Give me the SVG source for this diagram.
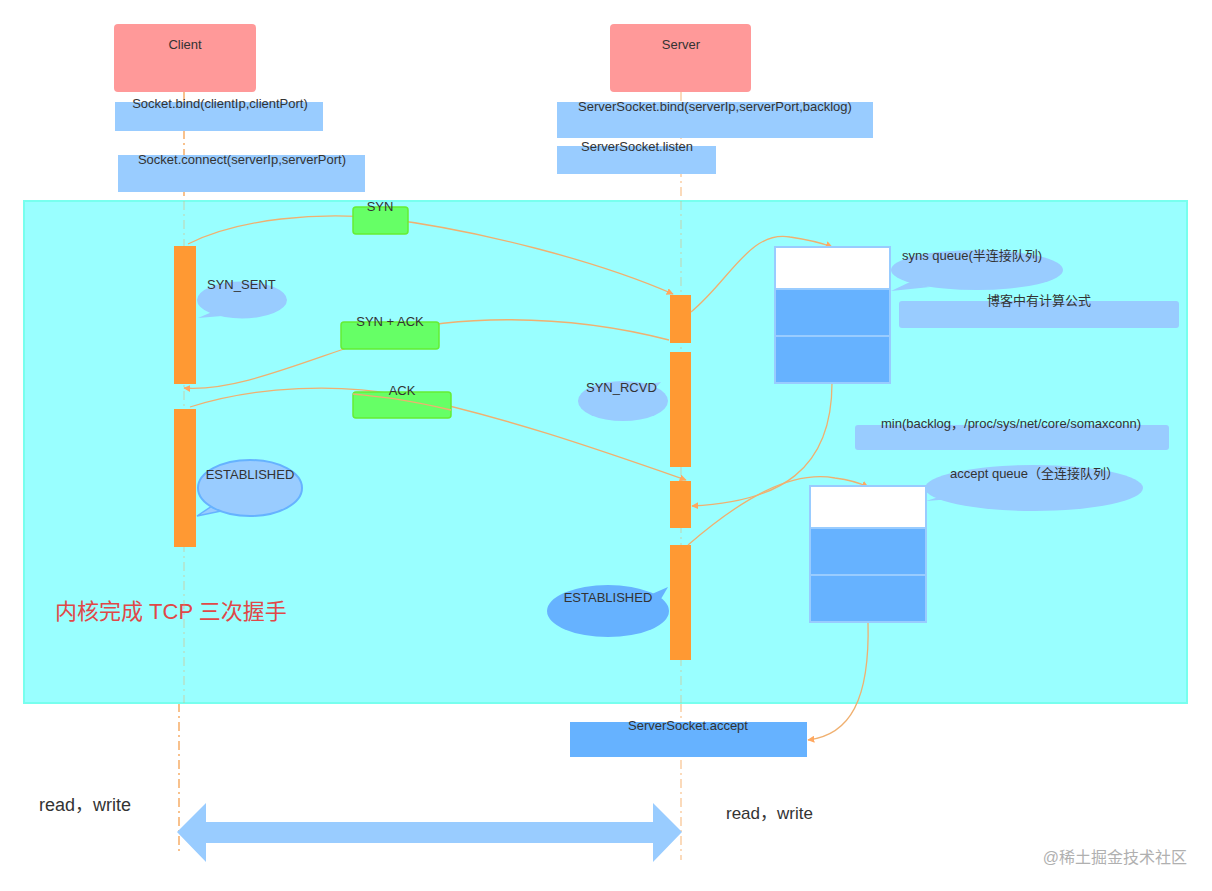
<svg xmlns="http://www.w3.org/2000/svg" width="1212" height="891" viewBox="0 0 1212 891">
<style>
text{font-family:"Liberation Sans",Arial,"Noto Sans CJK SC",sans-serif;font-size:13px;fill:#333}
.actor{fill:#FF9999}
.api{fill:#99CCFF}
.api2{fill:#66B2FF}
.msg{fill:#66FF66;stroke:#66EE33;stroke-width:1.5}
.bar{fill:#FF9933}
.life{stroke:#F5A050;stroke-width:1.3;stroke-dasharray:9 4 2 4;fill:none}
.conn{stroke:#F0B070;stroke-width:1.3;fill:none}
.bub{fill:#99CCFF}
.qw{fill:#FFFFFF;stroke:#99CCFF;stroke-width:2}
.qb{fill:#66B2FF;stroke:#99CCFF;stroke-width:2}
.c{text-anchor:middle}
</style>
<defs>
<marker id="ah" viewBox="0 0 10 10" refX="9" refY="5" markerWidth="7" markerHeight="7" orient="auto" markerUnits="userSpaceOnUse">
<path d="M0,0 L10,5 L0,10 z" fill="#FFA860"/>
</marker>
</defs>
<rect width="1212" height="891" fill="#FFFFFF"/>

<g id="lifelines">
<line class="life" x1="184" y1="92" x2="184" y2="201"/>
<line class="life" x1="179" y1="703" x2="179" y2="855"/>
<line class="life" x1="681" y1="92" x2="681" y2="201" stroke-opacity="0.6"/>
<line class="life" x1="681" y1="703" x2="681" y2="860" stroke-opacity="0.6"/>
</g>

<g id="client">
<rect class="actor" x="114" y="24" width="142" height="68" rx="4"/>
<text class="c" x="185" y="49">Client</text>
</g>
<g id="client-bind">
<rect class="api" x="115" y="102" width="208" height="29"/>
<text class="c" x="220" y="108">Socket.bind(clientIp,clientPort)</text>
</g>
<g id="client-connect">
<rect class="api" x="118" y="155" width="247" height="37"/>
<text class="c" x="242" y="164">Socket.connect(serverIp,serverPort)</text>
</g>
<g id="server">
<rect class="actor" x="610" y="24" width="141" height="68" rx="4"/>
<text class="c" x="681" y="49">Server</text>
</g>
<g id="server-bind">
<rect class="api" x="557" y="102" width="316" height="36"/>
<text class="c" x="715" y="111">ServerSocket.bind(serverIp,serverPort,backlog)</text>
</g>
<g id="server-listen">
<rect class="api" x="557" y="146" width="159" height="28"/>
<text class="c" x="637" y="151">ServerSocket.listen</text>
</g>

<g id="kernel">
<rect x="24" y="201" width="1163" height="502" fill="#99FFFF" stroke="#77FFEE" stroke-width="2"/>
<text x="55" y="619" style="font-size:22px;fill:#E04848">内核完成 TCP 三次握手</text>
<line class="life" x1="184" y1="201" x2="184" y2="703" stroke-opacity="0.35"/>
<line class="life" x1="681" y1="201" x2="681" y2="703" stroke-opacity="0.35"/>
</g>

<g id="client-bar1"><rect class="bar" x="174" y="246" width="22" height="138"/></g>
<g id="client-bar2"><rect class="bar" x="174" y="409" width="22" height="138"/></g>
<g id="server-bar1"><rect class="bar" x="670" y="295" width="21" height="48"/></g>
<g id="server-bar2"><rect class="bar" x="670" y="352" width="21" height="115"/></g>
<g id="server-bar3"><rect class="bar" x="670" y="481" width="21" height="47"/></g>
<g id="server-bar4"><rect class="bar" x="670" y="545" width="21" height="115"/></g>

<g id="connectors">
<path class="conn" d="M188,244 C240,218 320,212 380,218 C480,230 600,262 673,294" marker-end="url(#ah)"/>
<path class="conn" d="M669,340 C560,312 450,316 390,334 C310,358 240,392 184,388" marker-end="url(#ah)"/>
<path class="conn" d="M190,407 C260,385 340,384 400,395 C500,415 600,450 686,480" marker-end="url(#ah)"/>
<path class="conn" d="M691,312 C730,280 750,230 790,237 C810,240 820,242 832,247" marker-end="url(#ah)"/>
<path class="conn" d="M832,383 C832,470 780,502 692,506" marker-end="url(#ah)"/>
<path class="conn" d="M688,545 C740,500 790,470 835,478 C850,480 860,483 868,487" marker-end="url(#ah)"/>
<path class="conn" d="M868,622 C870,700 850,735 808,740" marker-end="url(#ah)"/>
</g>

<g id="syn">
<rect class="msg" x="353" y="207" width="55" height="27" rx="3"/>
<text class="c" x="380" y="211">SYN</text>
</g>
<g id="synack">
<rect class="msg" x="341" y="322" width="98" height="27" rx="3"/>
<text class="c" x="390" y="326">SYN + ACK</text>
</g>
<g id="ack">
<rect class="msg" x="353" y="392" width="98" height="26" rx="3"/>
<path class="conn" d="M353,394 C380,397 400,398 451,410"/>
<text class="c" x="402" y="395">ACK</text>
</g>

<g id="syn-sent">
<path class="bub" d="M212,312 L198,318 L222,316 z"/>
<ellipse class="bub" cx="242" cy="300" rx="45" ry="18.5"/>
<text x="207" y="289">SYN_SENT</text>
</g>
<g id="syn-rcvd">
<path class="bub" d="M640,386 L661,382 L652,392 z"/>
<ellipse class="bub" cx="623" cy="401" rx="45" ry="20"/>
<text x="586" y="392">SYN_RCVD</text>
</g>
<g id="client-established">
<path d="M212,506 L197,516 L226,510 z" fill="#99CCFF" stroke="#66B2FF" stroke-width="1.5"/>
<ellipse cx="250" cy="488" rx="52" ry="28" fill="#99CCFF" stroke="#66B2FF" stroke-width="2"/>
<text class="c" x="250" y="479">ESTABLISHED</text>
</g>
<g id="server-established">
<path d="M645,597 L668,587 L658,604 z" fill="#66B2FF"/>
<ellipse cx="608" cy="611" rx="61" ry="26" fill="#66B2FF"/>
<text class="c" x="608" y="602">ESTABLISHED</text>
</g>

<g id="syns-queue">
<rect class="qw" x="775" y="247" width="115" height="42"/>
<rect class="qb" x="775" y="289" width="115" height="47"/>
<rect class="qb" x="775" y="336" width="115" height="47"/>
</g>
<g id="syns-queue-note">
<path class="bub" d="M910,282 L891,291 L930,287 z"/>
<ellipse class="bub" cx="977" cy="270" rx="86" ry="20"/>
<text x="902" y="260">syns queue(半连接队列)</text>
</g>
<g id="blog-note">
<rect class="api" x="899" y="301" width="280" height="27" rx="3"/>
<text class="c" x="1039" y="305">博客中有计算公式</text>
</g>
<g id="min-note">
<rect class="api" x="855" y="425" width="314" height="25" rx="3"/>
<text class="c" x="1011" y="428">min(backlog，/proc/sys/net/core/somaxconn)</text>
</g>

<g id="accept-queue">
<rect class="qw" x="810" y="486" width="116" height="42"/>
<rect class="qb" x="810" y="528" width="116" height="47"/>
<rect class="qb" x="810" y="575" width="116" height="47"/>
</g>
<g id="accept-queue-note">
<path class="bub" d="M945,495 L926,501 L965,498 z"/>
<ellipse class="bub" cx="1034" cy="488" rx="109" ry="23"/>
<text x="950" y="478">accept queue（全连接队列）</text>
</g>

<g id="server-accept">
<rect class="api2" x="570" y="722" width="237" height="35"/>
<text class="c" x="688" y="730">ServerSocket.accept</text>
</g>

<g id="readwrite">
<text x="39" y="811" style="font-size:18px">read，write</text>
<text x="726" y="819" style="font-size:17px">read，write</text>
<path d="M177,832 L206,803 L206,822 L653,822 L653,803 L682,832 L653,862 L653,843 L206,843 L206,862 z" fill="#99CCFF"/>
</g>

<text x="1187" y="863" text-anchor="end" style="font-size:16px;fill:#B0B0B0">@稀土掘金技术社区</text>
</svg>
